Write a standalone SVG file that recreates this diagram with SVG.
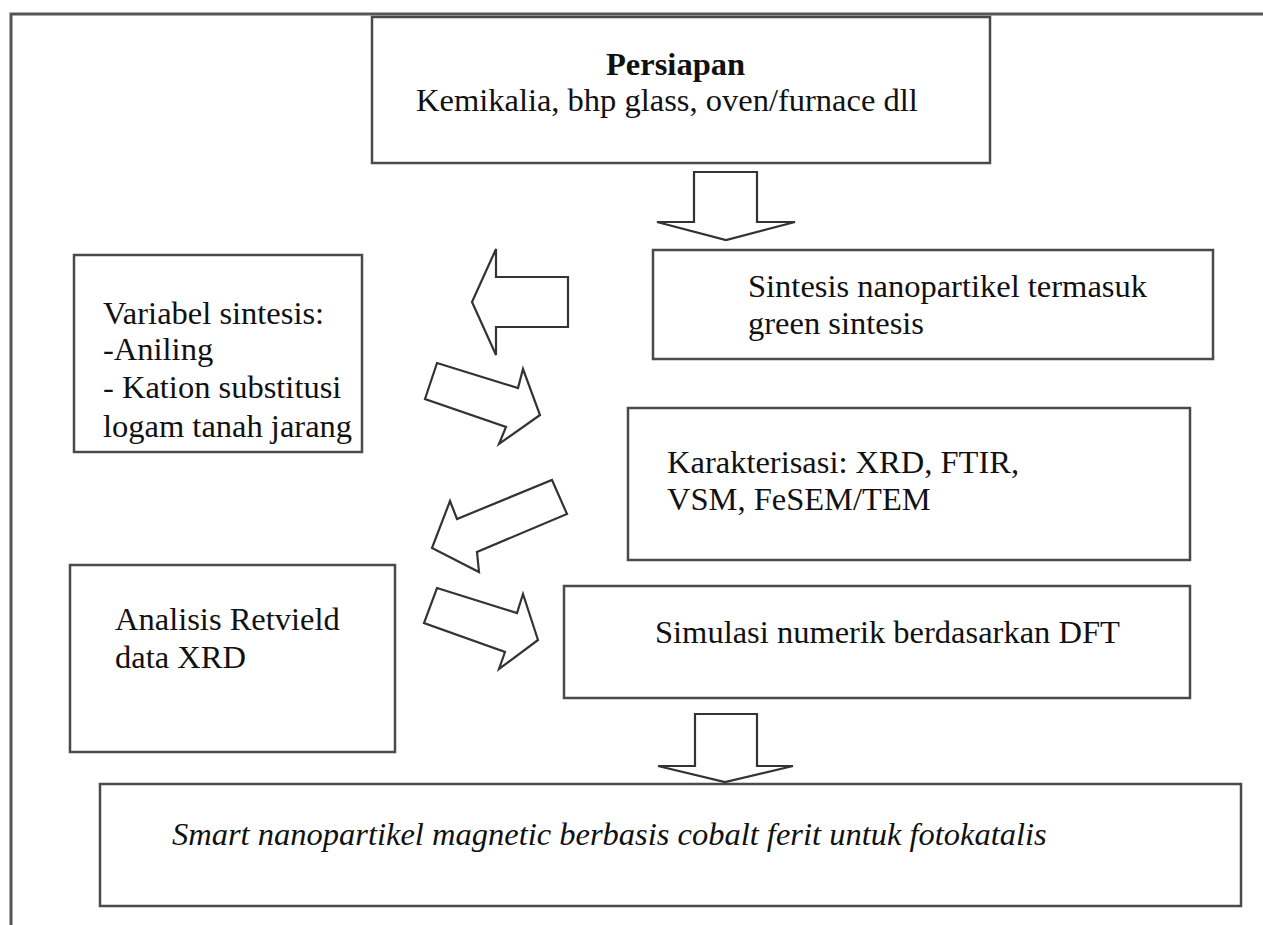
<svg xmlns="http://www.w3.org/2000/svg" width="1263" height="925" viewBox="0 0 1263 925">
<style>
.box{fill:#fff;stroke:#4a4a4a;stroke-width:2.5}
.frame{fill:none;stroke:#555;stroke-width:3}
.arr{fill:#fff;stroke:#333;stroke-width:2.2;stroke-linejoin:miter}
text{font-family:"Liberation Serif","Times New Roman",serif;font-size:32.5px;fill:#111}
.b{font-weight:bold}
.i{font-style:italic}
</style>
<rect width="1263" height="925" fill="#fff"/>
<g id="frame">
<polyline class="frame" points="11,925 11,14 1263,14"/>
</g>
<g id="persiapan">
<rect class="box" x="372" y="17" width="618" height="146"/>
<text class="b" x="606" y="75">Persiapan</text>
<text x="416" y="111">Kemikalia, bhp glass, oven/furnace dll</text>
</g>
<g id="sintesis">
<rect class="box" x="653" y="250" width="560" height="109"/>
<text x="748" y="297">Sintesis nanopartikel termasuk</text>
<text x="748" y="334">green sintesis</text>
</g>
<g id="variabel">
<rect class="box" x="74" y="255" width="288" height="197"/>
<text x="103" y="324">Variabel sintesis:</text>
<text x="103" y="360">-Aniling</text>
<text x="103" y="398">- Kation substitusi</text>
<text x="103" y="437">logam tanah jarang</text>
</g>
<g id="karakterisasi">
<rect class="box" x="628" y="408" width="562" height="152"/>
<text x="667" y="473">Karakterisasi: XRD, FTIR,</text>
<text x="667" y="510">VSM, FeSEM/TEM</text>
</g>
<g id="analisis">
<rect class="box" x="70" y="565" width="325" height="187"/>
<text x="115" y="630">Analisis Retvield</text>
<text x="115" y="668">data XRD</text>
</g>
<g id="simulasi">
<rect class="box" x="564" y="586" width="626" height="112"/>
<text x="655" y="643">Simulasi numerik berdasarkan DFT</text>
</g>
<g id="smart">
<rect class="box" x="100" y="784" width="1141" height="122"/>
<text class="i" x="172" y="845">Smart nanopartikel magnetic berbasis cobalt ferit untuk fotokatalis</text>
</g>
<g id="connectors">
<polygon class="arr" points="694,172 757,172 757,222 795,222 726,240 657,222 694,222"/>
<polygon class="arr" points="568,277 568,327 496,327 496,355 472,302 496,249 496,277"/>
<polygon class="arr" points="437,363 518,388 523,369 540,415 499,444 506,427 425,399"/>
<polygon class="arr" points="552,480 567,514 477,552 479,572 432,548 450,501 457,519"/>
<polygon class="arr" points="437,588 517,613 523,594 538,640 499,669 505,652 424,623"/>
<polygon class="arr" points="695,714 757,714 757,766 793,766 725,782 658,766 695,766"/>
</g>
</svg>
